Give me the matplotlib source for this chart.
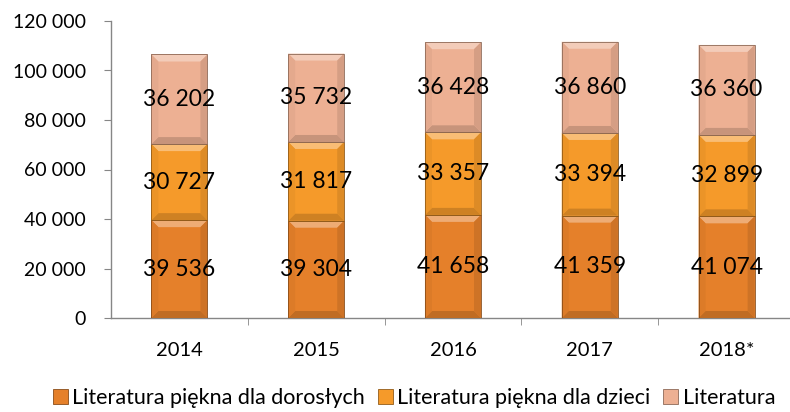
import matplotlib
matplotlib.use("Agg")
import matplotlib.pyplot as plt
import numpy as np
from matplotlib.patches import Polygon, Rectangle
from matplotlib.colors import to_rgb

plt.rcParams['font.family'] = ['Lato', 'DejaVu Sans']

years = ["2014", "2015", "2016", "2017", "2018*"]
adults = [39536, 39304, 41658, 41359, 41074]
children = [30727, 31817, 33357, 33394, 32899]
other = [36202, 35732, 36428, 36860, 36360]
series_names = ["Literatura piękna dla dorosłych", "Literatura piękna dla dzieci", "Literatura"]
colors = ["#E5802A", "#F59A2A", "#EDB093"]

fig = plt.figure(figsize=(7.9, 4.12), dpi=100)
ax = fig.add_axes([111/790, 1-318/412, 684/790, 297/412])

x = np.arange(len(years))
width = 0.41
ax.set_xlim(-0.5, len(years) - 0.5)
ax.set_ylim(0, 120000)

# pixel -> data scales for bevel shading
bbox = ax.get_window_extent()
px_x = (ax.get_xlim()[1] - ax.get_xlim()[0]) / bbox.width
px_y = (ax.get_ylim()[1] - ax.get_ylim()[0]) / bbox.height

def shade(c, f):
    r = np.array(to_rgb(c))
    if f > 0:
        return tuple(r + (1 - r) * f)
    return tuple(r * (1 + f))

def bevel_bar(xc, bottom, h, color):
    x0, x1 = xc - width / 2, xc + width / 2
    y0, y1 = bottom, bottom + h
    bx, by = 7 * px_x, 7 * px_y
    ax.add_patch(Rectangle((x0, y0), x1 - x0, h, facecolor=color, edgecolor='none', zorder=2))
    # top light facet
    ax.add_patch(Polygon([(x0, y1), (x1, y1), (x1 - bx, y1 - by), (x0 + bx, y1 - by)],
                         facecolor=shade(color, 0.35), edgecolor='none', zorder=3))
    # bottom dark facet
    ax.add_patch(Polygon([(x0, y0), (x1, y0), (x1 - bx, y0 + by), (x0 + bx, y0 + by)],
                         facecolor=shade(color, -0.16), edgecolor='none', zorder=3))
    # side facets
    ax.add_patch(Polygon([(x0, y0), (x0, y1), (x0 + bx, y1 - by), (x0 + bx, y0 + by)],
                         facecolor=shade(color, -0.04), edgecolor='none', zorder=3))
    ax.add_patch(Polygon([(x1, y0), (x1, y1), (x1 - bx, y1 - by), (x1 - bx, y0 + by)],
                         facecolor=shade(color, -0.1), edgecolor='none', zorder=3))
    ax.add_patch(Rectangle((x0, y0), x1 - x0, h, facecolor='none',
                           edgecolor=shade(color, -0.4), linewidth=0.6, zorder=4))

bottoms = np.zeros(len(years))
for vals, col in zip([adults, children, other], colors):
    for i, v in enumerate(vals):
        bevel_bar(x[i], bottoms[i], v, col)
        lab = f"{v:,}".replace(",", " ")
        ax.text(x[i], bottoms[i] + v / 2, lab, ha='center', va='center',
                fontsize=16.5, color='black', zorder=5)
    bottoms += np.array(vals)

for s in ['top', 'right']:
    ax.spines[s].set_visible(False)
for s in ['left', 'bottom']:
    ax.spines[s].set_color('#868686')
    ax.spines[s].set_linewidth(1)

ax.set_yticks(np.arange(0, 120001, 20000))
ax.set_yticklabels([f"{int(v):,}".replace(",", " ") for v in np.arange(0, 120001, 20000)],
                   fontsize=14)
ax.set_xticks(x)
ax.set_xticklabels(years, fontsize=14.5)
ax.set_xticks(np.arange(0.5, len(years) - 1), minor=True)
ax.tick_params(axis='x', which='major', length=0, pad=17)
ax.tick_params(axis='x', which='minor', length=5, color='#868686', direction='out')
ax.tick_params(axis='y', length=5, color='#868686', pad=13)

handles = [Rectangle((0, 0), 1, 1, facecolor=c, edgecolor=shade(c, -0.4), linewidth=0.6) for c in colors]
fig.legend(handles, series_names, loc='center', bbox_to_anchor=(414/790, 1-398/412),
           ncol=3, frameon=False, fontsize=15.5, handlelength=0.7, handleheight=0.7,
           handletextpad=0.2, columnspacing=0.6)

fig.savefig("out.png", dpi=100)
